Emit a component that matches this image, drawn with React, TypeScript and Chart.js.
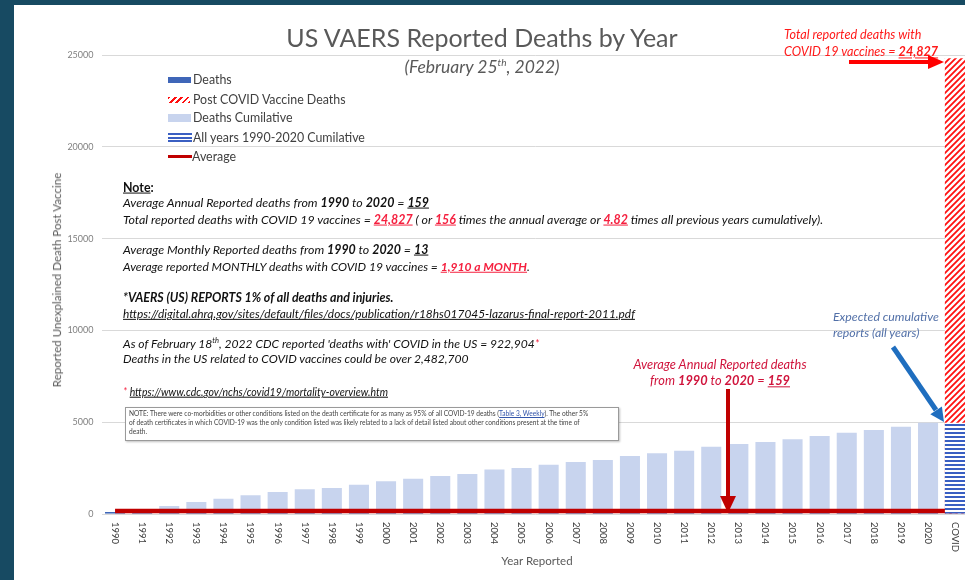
import React, { useEffect, useRef } from 'react';
import { Chart, registerables } from 'chart.js';
Chart.register(...registerables);

const categories = ['1990','1991','1992','1993','1994','1995','1996','1997','1998','1999','2000','2001','2002','2003','2004','2005','2006','2007','2008','2009','2010','2011','2012','2013','2014','2015','2016','2017','2018','2019','2020','COVID'];
const deathsPerYear = [110,140,186,218,179,185,180,147,71,180,185,142,147,109,251,75,180,147,109,218,147,142,218,147,109,146,180,180,147,180,218,null];
const deathsCumulative = [110,250,436,654,833,1018,1198,1345,1416,1596,1781,1923,2070,2179,2430,2505,2685,2832,2941,3159,3306,3448,3666,3813,3922,4068,4248,4428,4575,4755,4973,null];
const postCovidDeaths = [null,null,null,null,null,null,null,null,null,null,null,null,null,null,null,null,null,null,null,null,null,null,null,null,null,null,null,null,null,null,null,24827];
const allYearsCumulative = [null,null,null,null,null,null,null,null,null,null,null,null,null,null,null,null,null,null,null,null,null,null,null,null,null,null,null,null,null,null,null,4973];
const averageDeaths = [159,159,159,159,159,159,159,159,159,159,159,159,159,159,159,159,159,159,159,159,159,159,159,159,159,159,159,159,159,159,159,159];
const yTicks = [0, 5000, 10000, 15000, 20000, 25000];

const FONT = 'Lato, "DejaVu Sans", sans-serif';
const RED = '#ff1a1a';
const NOTE_RED = '#f5203f';

function makeHatch(ctx: CanvasRenderingContext2D) {
  const c = document.createElement('canvas');
  c.width = 6; c.height = 6;
  const g = c.getContext('2d')!;
  g.fillStyle = '#ffffff'; g.fillRect(0, 0, 6, 6);
  g.strokeStyle = '#ff1010'; g.lineWidth = 1.8;
  g.beginPath();
  g.moveTo(0, 6); g.lineTo(6, 0);
  g.moveTo(-1, 1); g.lineTo(1, -1);
  g.moveTo(5, 7); g.lineTo(7, 5);
  g.stroke();
  return ctx.createPattern(c, 'repeat');
}
function makeStripes(ctx: CanvasRenderingContext2D) {
  const c = document.createElement('canvas');
  c.width = 4; c.height = 4;
  const g = c.getContext('2d')!;
  g.fillStyle = '#ffffff'; g.fillRect(0, 0, 4, 4);
  g.fillStyle = '#3a5fc2'; g.fillRect(0, 0, 4, 2);
  return ctx.createPattern(c, 'repeat');
}

const xLabelPlugin = {
  id: 'xLabelsRot',
  afterDraw(chart: any) {
    const { ctx, chartArea } = chart;
    const x = chart.scales.x;
    ctx.save();
    ctx.fillStyle = '#404040';
    ctx.font = `9.5px ${FONT}`;
    ctx.textAlign = 'left';
    ctx.textBaseline = 'middle';
    categories.forEach((c, i) => {
      const px = x.getPixelForValue(i);
      ctx.save();
      ctx.translate(px, chartArea.bottom + 8);
      ctx.rotate(Math.PI / 2);
      ctx.fillText(c, 0, 0);
      ctx.restore();
    });
    ctx.restore();
  },
};

const T = (p: { x: number; y: number; children: any; style?: any; center?: boolean }) => (
  <div
    style={{
      position: 'absolute',
      left: p.x,
      top: p.y,
      transform: p.center ? 'translate(-50%,-50%)' : 'translateY(-50%)',
      whiteSpace: 'nowrap',
      fontFamily: FONT,
      lineHeight: 1.2,
      ...p.style,
    }}
  >
    {p.children}
  </div>
);

const Red = (p: { children: any; color?: string }) => (
  <span style={{ color: p.color || NOTE_RED, fontWeight: 700, textDecoration: 'underline' }}>{p.children}</span>
);
const B = (p: { children: any }) => <b>{p.children}</b>;
const U = (p: { children: any }) => <span style={{ fontWeight: 700, textDecoration: 'underline' }}>{p.children}</span>;

export default function App() {
  const ref = useRef<HTMLCanvasElement>(null);
  useEffect(() => {
    const canvas = ref.current!;
    const ctx = canvas.getContext('2d')!;
    const hatch = makeHatch(ctx);
    const stripes = makeStripes(ctx);
    const chart = new Chart(canvas, {
      type: 'bar',
      data: {
        labels: categories,
        datasets: [
          { type: 'bar', label: 'Post COVID Vaccine Deaths', data: postCovidDeaths as any, backgroundColor: hatch as any, grouped: false, order: 4, categoryPercentage: 1, barPercentage: 0.76 },
          { type: 'bar', label: 'Deaths Cumilative', data: deathsCumulative as any, backgroundColor: '#c8d4ee', grouped: false, order: 3, categoryPercentage: 1, barPercentage: 0.74 },
          { type: 'bar', label: 'Deaths', data: deathsPerYear as any, backgroundColor: '#3f66b8', grouped: false, order: 2, categoryPercentage: 1, barPercentage: 0.74 },
          { type: 'line', label: 'Average', data: averageDeaths, borderColor: '#c00000', borderWidth: 4.5, pointRadius: 0, order: 1, fill: false },
          { type: 'bar', label: 'All years 1990-2020 Cumilative', data: allYearsCumulative as any, backgroundColor: stripes as any, grouped: false, order: 0, categoryPercentage: 1, barPercentage: 0.76 },
        ] as any,
      },
      options: {
        animation: false,
        responsive: false,
        events: [],
        layout: { padding: { top: 55, right: 6.3, left: 0, bottom: 0 } },
        plugins: { legend: { display: false }, tooltip: { enabled: false }, title: { display: false } },
        scales: {
          x: {
            grid: { display: false },
            border: { display: false },
            ticks: { display: false },
            afterFit: (s: any) => { s.height = 66; },
          },
          y: {
            min: 0,
            max: 25000,
            afterBuildTicks: (s: any) => { s.ticks = yTicks.map((v) => ({ value: v })); },
            afterFit: (s: any) => { s.width = 101.5; },
            grid: { color: '#d9d9d9', lineWidth: 1, drawTicks: false },
            border: { display: false },
            ticks: { padding: 8, color: '#808080', font: { size: 9, family: FONT }, callback: (v: any) => String(v) },
          },
        },
      },
      plugins: [xLabelPlugin],
    } as any);
    return () => chart.destroy();
  }, []);

  const noteStyle = { fontStyle: 'italic', fontSize: 12.4, color: '#111' };
  const noteStyle2 = { fontStyle: 'italic', fontSize: 12.1, color: '#111' };

  return (
    <div style={{ position: 'fixed', left: 0, top: 0, width: 965, height: 580, background: '#174a62', overflow: 'hidden' }}>
      <div style={{ position: 'absolute', left: 14, top: 5, right: 0, bottom: 0, background: '#ffffff' }} />
      <canvas ref={ref} width={975} height={580} style={{ position: 'absolute', left: 0, top: 0 }} />

      <T x={482} y={37} center style={{ fontSize: 25, color: '#595959' }}>US VAERS Reported Deaths by Year</T>
      <T x={482} y={66} center style={{ fontSize: 17.5, fontStyle: 'italic', color: '#595959' }}>
        (February 25<sup style={{ fontSize: 10 }}>th</sup>, 2022)
      </T>

      {/* legend */}
      <div style={{ position: 'absolute', left: 168, top: 77, width: 23, height: 6, background: '#3f66b8' }} />
      <T x={193} y={80} style={{ fontSize: 12.4, color: '#404040' }}>Deaths</T>
      <div style={{ position: 'absolute', left: 168, top: 97, width: 22, height: 6, background: 'repeating-linear-gradient(135deg, #ff1010 0 2px, transparent 2px 4.5px)' }} />
      <T x={193} y={100} style={{ fontSize: 12.4, color: '#404040' }}>Post COVID Vaccine Deaths</T>
      <div style={{ position: 'absolute', left: 168, top: 114, width: 23, height: 8, background: '#c8d4ee' }} />
      <T x={193} y={118} style={{ fontSize: 12.4, color: '#404040' }}>Deaths Cumilative</T>
      <div style={{ position: 'absolute', left: 168, top: 133, width: 24, height: 9, background: 'repeating-linear-gradient(to bottom, #3a5fc2 0 2px, #ffffff 2px 3.6px)' }} />
      <T x={193} y={138} style={{ fontSize: 12.4, color: '#404040' }}>All years 1990-2020 Cumilative</T>
      <div style={{ position: 'absolute', left: 168, top: 155, width: 24, height: 3, background: '#c00000' }} />
      <T x={192} y={157} style={{ fontSize: 12.4, color: '#404040' }}>Average</T>

      {/* notes */}
      <T x={123} y={188} style={{ fontSize: 12.4, fontWeight: 700, color: '#111' }}><span style={{ textDecoration: 'underline' }}>Note</span>:</T>
      <T x={123} y={203} style={noteStyle}>Average Annual Reported deaths from <B>1990</B> to <B>2020</B> = <U>159</U></T>
      <T x={123} y={220} style={noteStyle}>
        Total reported deaths with COVID 19 vaccines = <Red>24,827</Red> ( or <Red>156</Red> times the annual average or <Red>4.82</Red> times all previous years cumulatively).
      </T>
      <T x={123} y={250} style={noteStyle}>Average Monthly Reported deaths from <B>1990</B> to <B>2020</B> = <U>13</U></T>
      <T x={123} y={267} style={noteStyle2}>Average reported MONTHLY deaths with COVID 19 vaccines = <Red>1,910 a MONTH</Red>.</T>
      <T x={123} y={298} style={{ ...noteStyle, fontWeight: 700 }}>*VAERS (US) REPORTS 1% of all deaths and injuries.</T>
      <T x={123} y={314} style={{ ...noteStyle, fontSize: 11.9, textDecoration: 'underline' }}>https://digital.ahrq.gov/sites/default/files/docs/publication/r18hs017045-lazarus-final-report-2011.pdf</T>
      <T x={123} y={344} style={noteStyle2}>
        As of February 18<sup style={{ fontSize: 7.5 }}>th</sup>, 2022 CDC reported 'deaths with' COVID in the US = 922,904<span style={{ color: NOTE_RED }}>*</span>
      </T>
      <T x={123} y={359} style={noteStyle2}>Deaths in the US related to COVID vaccines could be over 2,482,700</T>
      <T x={123} y={392} style={{ fontStyle: 'italic', fontSize: 10.5, color: '#111' }}>
        <span style={{ color: NOTE_RED }}>*</span> <span style={{ textDecoration: 'underline' }}>https://www.cdc.gov/nchs/covid19/mortality-overview.htm</span>
      </T>
      <div style={{ position: 'absolute', left: 125, top: 407, width: 494, height: 34, background: '#fff', border: '1px solid #9a9a9a', boxShadow: '1px 1px 2px rgba(0,0,0,0.25)', fontFamily: FONT, fontSize: 6.6, lineHeight: '9px', color: '#444', padding: '1px 3px', boxSizing: 'border-box', whiteSpace: 'nowrap', overflow: 'hidden' }}>
        NOTE: There were co-morbidities or other conditions listed on the death certificate for as many as 95% of all COVID-19 deaths (<span style={{ color: '#3355aa', textDecoration: 'underline' }}>Table 3, Weekly</span>). The other 5%<br />
        of death certificates in which COVID-19 was the only condition listed was likely related to a lack of detail listed about other conditions present at the time of<br />
        death.
      </div>

      {/* annotations */}
      <T x={784} y={35} style={{ fontStyle: 'italic', fontSize: 12.6, color: RED }}>Total reported deaths with</T>
      <T x={784} y={52} style={{ fontStyle: 'italic', fontSize: 12.6, color: RED }}>COVID 19 vaccines = <span style={{ fontWeight: 700, textDecoration: 'underline' }}>24,827</span></T>
      <T x={720} y={365} center style={{ fontStyle: 'italic', fontSize: 12.8, color: '#d0143c' }}>Average Annual Reported deaths</T>
      <T x={720} y={381} center style={{ fontStyle: 'italic', fontSize: 12.8, color: '#d0143c' }}>from <B>1990</B> to <B>2020</B> = <U>159</U></T>
      <T x={833} y={317} style={{ fontStyle: 'italic', fontSize: 12.3, color: '#5270a8' }}>Expected cumulative</T>
      <T x={833} y={333} style={{ fontStyle: 'italic', fontSize: 12.3, color: '#5270a8' }}>reports (all years)</T>

      <T x={57} y={280} center style={{ fontSize: 11.6, color: '#595959', transform: 'translate(-50%,-50%) rotate(-90deg)' }}>Reported Unexplained Death Post Vaccine</T>
      <T x={537} y={561} center style={{ fontSize: 11.5, color: '#595959' }}>Year Reported</T>

      <svg width={965} height={580} style={{ position: 'absolute', left: 0, top: 0, pointerEvents: 'none' }}>
        <line x1={849} y1={62} x2={930} y2={62} stroke="#ff0000" strokeWidth={4} />
        <polygon points="944,62 928,55 928,69" fill="#ff0000" />
        <line x1={728} y1={389} x2={728} y2={498} stroke="#c00000" strokeWidth={4} />
        <polygon points="728,513 720,496 736,496" fill="#c00000" />
        <line x1={893} y1={347} x2={936} y2={410} stroke="#1f6ebf" strokeWidth={5} />
        <polygon points="944,422 930.3,414.3 941.9,406.5" fill="#1f6ebf" />
      </svg>
    </div>
  );
}
